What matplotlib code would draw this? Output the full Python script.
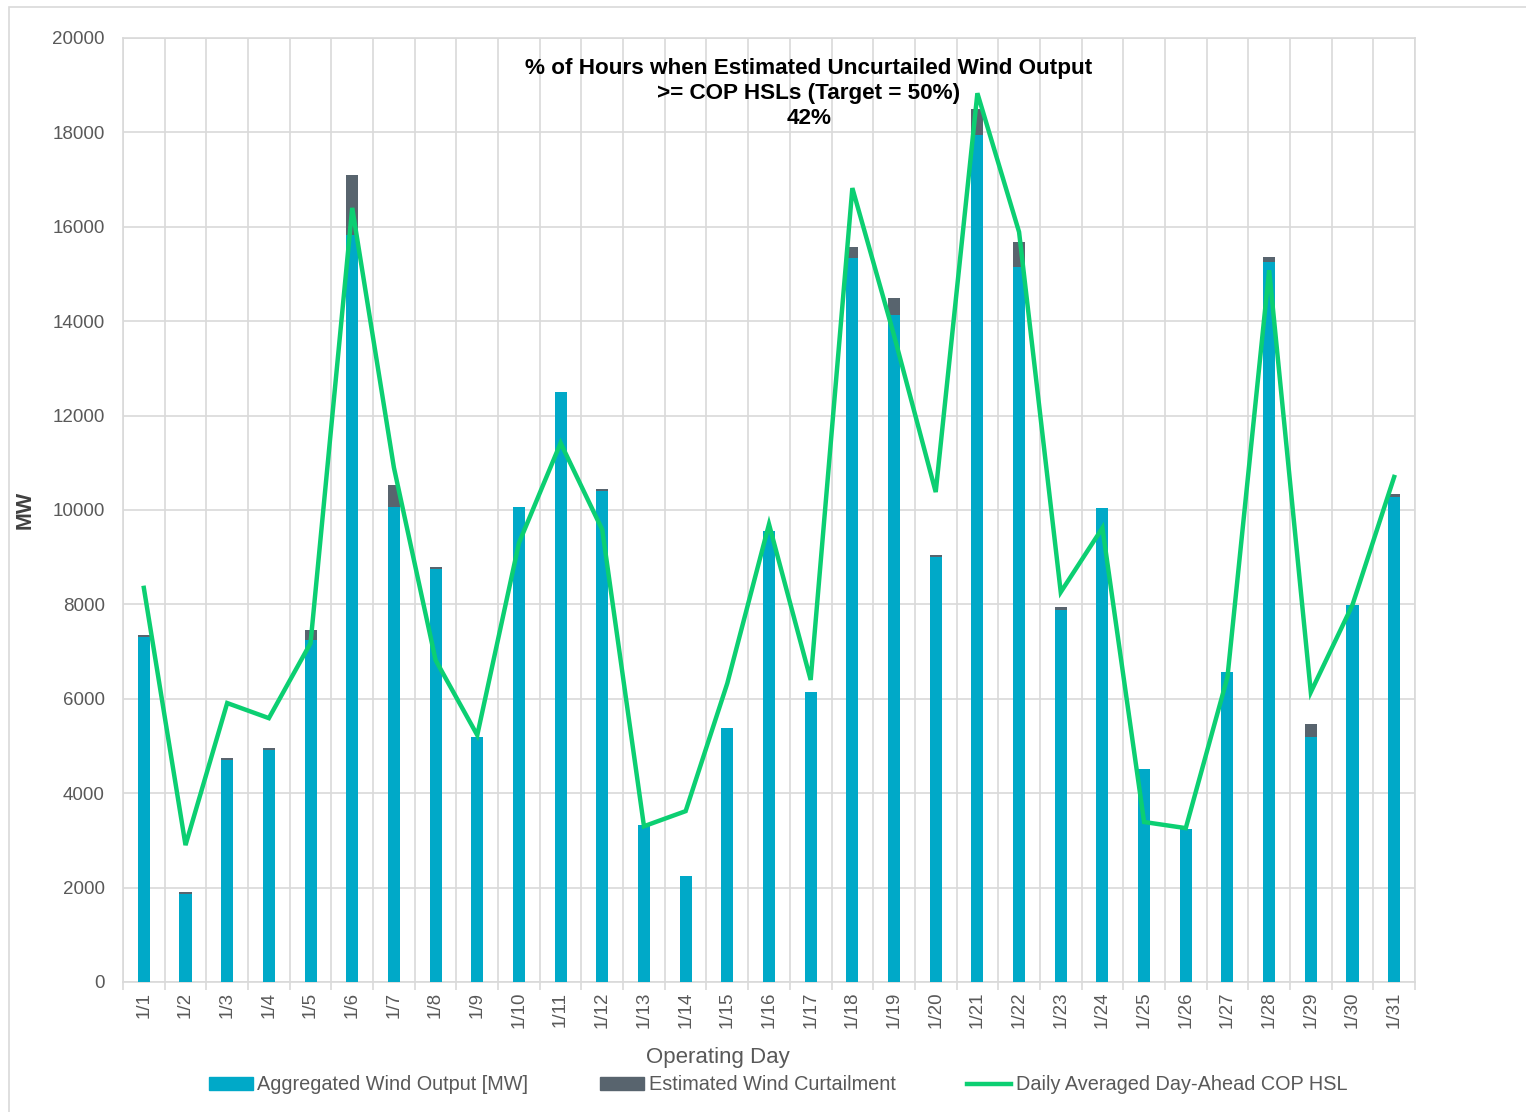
import numpy as np
import matplotlib
matplotlib.use("Agg")
import matplotlib.pyplot as plt
from matplotlib.patches import Rectangle
from matplotlib.lines import Line2D

plt.rcParams['font.family'] = ['Liberation Sans', 'DejaVu Sans']

days = ["1/%d" % d for d in range(1, 32)]

# aggregated wind output [MW]
wind_output = [7300, 1870, 4700, 4920, 7250, 15830, 10060, 8740, 5190, 10070,
               12500, 10400, 3330, 2250, 5380, 9550, 6140, 15340, 14130, 9000,
               17940, 15150, 7880, 10040, 4510, 3240, 6570, 15250, 5190, 7990,
               10270]

# estimated curtailment (stacked on top)
curtailment = [50, 30, 40, 40, 200, 1270, 470, 50, 0, 0,
               0, 50, 0, 0, 0, 0, 0, 230, 360, 50,
               560, 530, 70, 0, 0, 0, 0, 110, 280, 0,
               60]

# daily averaged day-ahead COP HSL
cop_hsl = [8350, 2900, 5910, 5590, 7180, 16400, 10900, 6820, 5230, 9300,
           11420, 9580, 3300, 3620, 6330, 9700, 6400, 16820, 13700, 10380,
           18830, 15890, 8260, 9620, 3390, 3260, 6460, 15080, 6140, 7990,
           10700]

blue = "#00A9C8"
gray = "#58646E"
green = "#0CCF72"
grid_c = "#D9D9D9"
text_c = "#595959"

fig = plt.figure(figsize=(15.26, 11.12), dpi=100)
# outer chart border
fig.add_artist(Rectangle((9 / 1526, -0.01), 1.1, 1 - 7 / 1112 + 0.01,
                         transform=fig.transFigure, fill=False,
                         edgecolor="#D9D9D9", lw=1.2))

ax = fig.add_axes([123 / 1526, 130 / 1112, 1292 / 1526, 944 / 1112])

x = np.arange(len(days))
w = 0.29
ax.bar(x, wind_output, width=w, color=blue, zorder=3)
ax.bar(x, curtailment, width=w, bottom=wind_output, color=gray, zorder=3)
ax.plot(x, cop_hsl, color=green, lw=3.2, zorder=4, solid_joinstyle="miter")

ax.set_xlim(-0.5, len(days) - 0.5)
ax.set_ylim(0, 20000)
ax.set_yticks(np.arange(0, 20001, 2000))
ax.set_yticklabels([str(v) for v in range(0, 20001, 2000)])
ax.yaxis.grid(True, color=grid_c, lw=1.2, zorder=0)

# category labels centred, ticks/vertical grid at boundaries
ax.set_xticks(x)
ax.set_xticklabels(days, rotation=90)
ax.set_xticks(np.arange(-0.5, len(days), 1), minor=True)
ax.xaxis.grid(True, which="minor", color=grid_c, lw=1.2, zorder=0)
ax.tick_params(axis="x", which="major", length=0, pad=7, labelsize=13.5, labelcolor=text_c)
ax.tick_params(axis="x", which="minor", length=6, color=grid_c, width=1.2)
ax.tick_params(axis="y", length=0, pad=13, labelsize=13.5, labelcolor=text_c)

for s in ax.spines.values():
    s.set_color(grid_c)
    s.set_linewidth(1.2)

ax.set_ylabel("MW", fontsize=15.5, color="#404040", fontweight="bold", labelpad=12)
ax.set_xlabel("Operating Day", fontsize=16, color=text_c, labelpad=12)
ax.xaxis.set_label_coords((718 - 123) / 1292, -(1057 - 982) / 944)
ax.xaxis.label.set_va("center")

ax.text((809 - 123) / 1292, (982 - 58) / 944,
        "% of Hours when Estimated Uncurtailed Wind Output\n>= COP HSLs (Target = 50%)\n42%",
        transform=ax.transAxes, ha="center", va="top", fontsize=16.2,
        fontweight="bold", color="black", linespacing=1.25, zorder=5)

handles = [Rectangle((0, 0), 1, 1, color=blue),
           Rectangle((0, 0), 1, 1, color=gray),
           Line2D([], [], color=green, lw=3.2)]
labels = ["Aggregated Wind Output [MW]", "Estimated Wind Curtailment",
          "Daily Averaged Day-Ahead COP HSL"]
leg = fig.legend(handles, labels, loc="center", bbox_to_anchor=(778 / 1526, 1 - 1085 / 1112),
                 ncol=3, frameon=False, fontsize=14.3, handlelength=2.2, handleheight=0.6,
                 handletextpad=0.25, columnspacing=3.6, labelcolor=text_c)

fig.savefig("out.png", dpi=100)
